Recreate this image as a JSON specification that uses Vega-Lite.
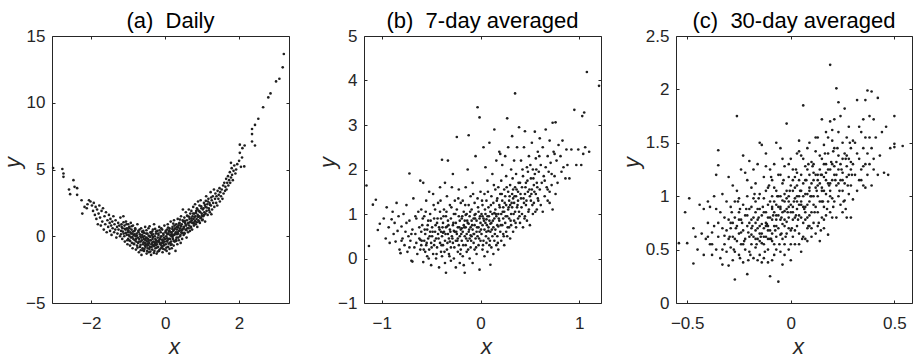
{
"$schema": "https://vega.github.io/schema/vega-lite/v6.json",
"background": "white",
"padding": {"left": 0, "top": 9, "right": 0, "bottom": 0},
"bounds": "flush",
"spacing": 75,
"config": {
 "font": "Liberation Sans",
 "view": {"stroke": "#262626", "strokeWidth": 1},
 "axis": {"domain": false, "grid": false, "minExtent": 0, "tickSize": -3, "tickColor": "#262626", "tickWidth": 1, "labelFont": "Liberation Sans", "labelFontSize": 17, "labelColor": "#262626", "labelFlush": false, "titleFont": "Liberation Sans", "titleFontSize": 22, "titleFontStyle": "italic", "titleFontWeight": "normal", "titleColor": "#262626"},
 "axisX": {"labelPadding": 15, "titleX": 122, "titleY": 50, "titleBaseline": "alphabetic", "titleAlign": "center"},
 "axisY": {"labelPadding": 10, "titleAngle": 270, "titleY": 126, "titleBaseline": "alphabetic", "titleAlign": "center"},
 "title": {"fontSize": 22, "fontWeight": "normal", "color": "#000000", "font": "Liberation Sans", "baseline": "alphabetic", "offset": -6}
},
"datasets": {
"a": [
{"x":-3.03,"y":5.11},{"x":-2.78,"y":5.04},{"x":-2.75,"y":4.7},{"x":-2.75,"y":4.45},{"x":-2.6,"y":3.5},{"x":-2.57,"y":3.15},{"x":-2.48,"y":4.2},{"x":-2.45,"y":3.7},{"x":-2.38,"y":3.6},{"x":-2.38,"y":3.1},{"x":-2.26,"y":2.7},{"x":-2.24,"y":1.7},{"x":-2.1,"y":2.4},{"x":-2.06,"y":2.7},{"x":-2.18,"y":2.2},{"x":-2.02,"y":2.6},{"x":-2.12,"y":2.1},
{"x":-1.98,"y":2.3},{"x":-1.95,"y":1.9},{"x":-1.93,"y":2.5},{"x":-1.9,"y":1.6},{"x":-1.88,"y":2.2},{"x":-1.86,"y":1.3},{"x":-1.84,"y":2.0},{"x":-1.82,"y":0.9},{"x":-1.8,"y":1.7},{"x":-1.78,"y":2.3},{"x":-1.76,"y":1.4},{"x":-1.74,"y":0.8},{"x":-1.72,"y":1.9},{"x":-1.7,"y":1.1},{"x":-1.68,"y":2.1},{"x":-1.66,"y":0.5},{"x":-1.64,"y":1.5},{"x":-1.62,"y":0.9},{"x":-1.6,"y":1.8},{"x":-1.58,"y":0.3},{"x":-1.56,"y":1.2},{"x":-1.54,"y":0.7},{"x":-1.52,"y":1.6},{"x":-1.5,"y":1.0},
{"x":-1.49,"y":0.4},{"x":-1.48,"y":1.3},{"x":-1.46,"y":0.8},{"x":-1.45,"y":0.1},{"x":-1.43,"y":1.1},{"x":-1.42,"y":0.6},{"x":-1.4,"y":1.5},{"x":-1.38,"y":0.3},{"x":-1.37,"y":0.9},{"x":-1.35,"y":0.5},{"x":-1.34,"y":1.2},{"x":-1.32,"y":-0.1},{"x":-1.3,"y":0.7},{"x":-1.29,"y":0.2},{"x":-1.27,"y":1.0},{"x":-1.26,"y":0.5},{"x":-1.24,"y":0.8},{"x":-1.22,"y":0.0},{"x":-1.21,"y":1.4},{"x":-1.19,"y":0.4},{"x":-1.18,"y":0.9},{"x":-1.16,"y":-0.2},{"x":-1.15,"y":0.6},{"x":-1.13,"y":1.5},{"x":-1.12,"y":0.2},{"x":-1.1,"y":0.8},{"x":-1.09,"y":-0.4},{"x":-1.07,"y":0.5},{"x":-1.06,"y":1.1},{"x":-1.04,"y":0.1},{"x":-1.03,"y":0.6},{"x":-1.02,"y":-0.6},{"x":-1.01,"y":0.3},{"x":-1.0,"y":0.9},{"x":-1.0,"y":-0.2},
{"x":-0.99,"y":0.4},{"x":-0.98,"y":-0.3},{"x":-0.97,"y":0.7},{"x":-0.96,"y":0.0},{"x":-0.95,"y":-0.7},{"x":-0.94,"y":0.3},{"x":-0.93,"y":1.0},{"x":-0.92,"y":-0.1},{"x":-0.91,"y":0.5},{"x":-0.9,"y":-0.5},{"x":-0.89,"y":0.2},{"x":-0.88,"y":-0.9},{"x":-0.87,"y":0.8},{"x":-0.86,"y":-0.2},{"x":-0.85,"y":0.1},{"x":-0.84,"y":-0.6},{"x":-0.83,"y":0.4},{"x":-0.82,"y":-0.3},{"x":-0.81,"y":0.6},{"x":-0.8,"y":0.0},{"x":-0.79,"y":-1.0},{"x":-0.78,"y":-0.4},{"x":-0.77,"y":0.2},{"x":-0.76,"y":-0.7},{"x":-0.75,"y":0.9},{"x":-0.74,"y":-0.1},{"x":-0.73,"y":-0.5},{"x":-0.72,"y":0.3},{"x":-0.71,"y":-1.2},{"x":-0.7,"y":-0.2},{"x":-0.69,"y":0.5},{"x":-0.68,"y":-0.8},{"x":-0.67,"y":0.0},{"x":-0.66,"y":-0.4},{"x":-0.65,"y":0.6},{"x":-0.64,"y":-1.4},{"x":-0.63,"y":-0.3},{"x":-0.62,"y":0.1},{"x":-0.61,"y":-0.9},{"x":-0.6,"y":-0.6},{"x":-0.59,"y":0.4},{"x":-0.58,"y":-0.2},{"x":-0.57,"y":-1.1},{"x":-0.56,"y":0.0},{"x":-0.55,"y":-0.5},{"x":-0.54,"y":0.7},{"x":-0.53,"y":-0.8},{"x":-0.52,"y":-0.3},{"x":-0.51,"y":0.2},{"x":-0.5,"y":-1.3},{"x":-0.5,"y":-0.1},{"x":-0.52,"y":-0.6},{"x":-0.56,"y":-0.95},{"x":-0.6,"y":0.3},{"x":-0.66,"y":-1.05},
{"x":-0.49,"y":-0.4},{"x":-0.48,"y":0.2},{"x":-0.47,"y":-0.9},{"x":-0.46,"y":-0.2},{"x":-0.45,"y":0.6},{"x":-0.44,"y":-1.2},{"x":-0.43,"y":-0.5},{"x":-0.42,"y":0.0},{"x":-0.41,"y":-0.8},{"x":-0.4,"y":0.3},{"x":-0.39,"y":-0.3},{"x":-0.38,"y":-1.4},{"x":-0.37,"y":-0.6},{"x":-0.36,"y":0.1},{"x":-0.35,"y":-1.0},{"x":-0.34,"y":-0.2},{"x":-0.33,"y":0.5},{"x":-0.32,"y":-0.7},{"x":-0.31,"y":-0.4},{"x":-0.3,"y":0.9},{"x":-0.29,"y":-1.1},{"x":-0.28,"y":0.0},{"x":-0.27,"y":-0.5},{"x":-0.26,"y":-0.9},{"x":-0.25,"y":0.2},{"x":-0.24,"y":-0.3},{"x":-0.23,"y":-1.3},{"x":-0.22,"y":-0.6},{"x":-0.21,"y":0.4},{"x":-0.2,"y":-0.1},{"x":-0.19,"y":-0.8},{"x":-0.18,"y":0.1},{"x":-0.17,"y":-0.4},{"x":-0.16,"y":0.7},{"x":-0.15,"y":-1.0},{"x":-0.14,"y":-0.2},{"x":-0.13,"y":-0.6},{"x":-0.12,"y":0.3},{"x":-0.11,"y":-0.9},{"x":-0.1,"y":0.0},{"x":-0.09,"y":-0.5},{"x":-0.08,"y":0.5},{"x":-0.07,"y":-1.2},{"x":-0.06,"y":-0.3},{"x":-0.05,"y":0.2},{"x":-0.04,"y":-0.7},{"x":-0.03,"y":-0.1},{"x":-0.02,"y":0.8},{"x":-0.01,"y":-0.4},{"x":0.0,"y":-1.0},{"x":-0.45,"y":-0.65},{"x":-0.4,"y":-1.15},{"x":-0.35,"y":0.35},{"x":-0.3,"y":-0.75},{"x":-0.25,"y":-0.45},{"x":-0.2,"y":-1.15},{"x":-0.15,"y":0.45},{"x":-0.1,"y":-0.7},{"x":-0.05,"y":-0.95},{"x":-0.42,"y":0.75},{"x":-0.33,"y":-0.05},{"x":-0.27,"y":0.55},{"x":-0.18,"y":-0.35},{"x":-0.08,"y":-0.25},{"x":-0.48,"y":-0.7},
{"x":0.01,"y":0.3},{"x":0.02,"y":-0.6},{"x":0.03,"y":0.0},{"x":0.04,"y":-1.1},{"x":0.05,"y":0.5},{"x":0.06,"y":-0.3},{"x":0.07,"y":0.9},{"x":0.08,"y":-0.8},{"x":0.09,"y":0.2},{"x":0.1,"y":-0.2},{"x":0.11,"y":-1.3},{"x":0.12,"y":0.6},{"x":0.13,"y":-0.5},{"x":0.14,"y":0.1},{"x":0.15,"y":1.1},{"x":0.16,"y":-0.4},{"x":0.17,"y":0.3},{"x":0.18,"y":-0.9},{"x":0.19,"y":0.0},{"x":0.2,"y":0.7},{"x":0.21,"y":-0.2},{"x":0.22,"y":0.4},{"x":0.23,"y":-0.7},{"x":0.24,"y":1.2},{"x":0.25,"y":0.1},{"x":0.26,"y":-0.4},{"x":0.27,"y":0.6},{"x":0.28,"y":-1.1},{"x":0.29,"y":0.3},{"x":0.3,"y":0.9},{"x":0.31,"y":-0.1},{"x":0.32,"y":0.5},{"x":0.33,"y":-0.6},{"x":0.34,"y":1.3},{"x":0.35,"y":0.2},{"x":0.36,"y":0.8},{"x":0.37,"y":-0.3},{"x":0.38,"y":0.4},{"x":0.39,"y":1.0},{"x":0.4,"y":0.0},{"x":0.41,"y":0.6},{"x":0.42,"y":-0.5},{"x":0.43,"y":1.5},{"x":0.44,"y":0.3},{"x":0.45,"y":0.9},{"x":0.46,"y":-0.2},{"x":0.47,"y":0.5},{"x":0.48,"y":2.0},{"x":0.49,"y":1.1},{"x":0.5,"y":0.1},{"x":0.05,"y":-0.15},{"x":0.1,"y":0.35},{"x":0.15,"y":-0.65},{"x":0.2,"y":-0.05},{"x":0.25,"y":0.5},{"x":0.3,"y":-0.35},{"x":0.35,"y":0.65},{"x":0.4,"y":1.25},{"x":0.45,"y":0.45},{"x":0.12,"y":-0.95},{"x":0.22,"y":0.95},{"x":0.32,"y":0.15},{"x":0.42,"y":0.8},{"x":0.08,"y":0.65},{"x":0.18,"y":0.15},
{"x":0.51,"y":0.7},{"x":0.52,"y":1.4},{"x":0.53,"y":0.2},{"x":0.54,"y":1.0},{"x":0.55,"y":0.5},{"x":0.56,"y":1.8},{"x":0.57,"y":0.8},{"x":0.58,"y":-0.1},{"x":0.59,"y":1.2},{"x":0.6,"y":0.6},{"x":0.61,"y":1.5},{"x":0.62,"y":0.3},{"x":0.63,"y":1.0},{"x":0.64,"y":2.0},{"x":0.65,"y":0.8},{"x":0.66,"y":1.3},{"x":0.67,"y":0.4},{"x":0.68,"y":1.7},{"x":0.69,"y":1.1},{"x":0.7,"y":0.7},{"x":0.71,"y":1.9},{"x":0.72,"y":1.2},{"x":0.73,"y":0.5},{"x":0.74,"y":1.5},{"x":0.75,"y":1.0},{"x":0.76,"y":2.2},{"x":0.77,"y":1.3},{"x":0.78,"y":0.8},{"x":0.79,"y":1.7},{"x":0.8,"y":1.1},{"x":0.81,"y":2.4},{"x":0.82,"y":1.5},{"x":0.83,"y":0.9},{"x":0.84,"y":1.9},{"x":0.85,"y":1.3},{"x":0.86,"y":2.1},{"x":0.87,"y":0.7},{"x":0.88,"y":1.6},{"x":0.89,"y":2.6},{"x":0.9,"y":1.2},{"x":0.91,"y":1.9},{"x":0.92,"y":1.5},{"x":0.93,"y":2.3},{"x":0.94,"y":1.0},{"x":0.95,"y":1.8},{"x":0.96,"y":2.7},{"x":0.97,"y":1.4},{"x":0.98,"y":2.1},{"x":0.99,"y":1.7},{"x":1.0,"y":1.2},
{"x":1.02,"y":2.0},{"x":1.03,"y":1.5},{"x":1.05,"y":2.5},{"x":1.06,"y":1.8},{"x":1.08,"y":1.1},{"x":1.09,"y":2.2},{"x":1.11,"y":3.0},{"x":1.12,"y":1.9},{"x":1.14,"y":2.4},{"x":1.15,"y":1.6},{"x":1.17,"y":2.8},{"x":1.18,"y":2.1},{"x":1.2,"y":2.5},{"x":1.21,"y":1.8},{"x":1.23,"y":3.3},{"x":1.24,"y":2.3},{"x":1.26,"y":2.7},{"x":1.27,"y":2.0},{"x":1.29,"y":3.0},{"x":1.3,"y":2.5},{"x":1.32,"y":3.5},{"x":1.33,"y":2.2},{"x":1.35,"y":2.8},{"x":1.36,"y":3.2},{"x":1.38,"y":2.5},{"x":1.39,"y":3.0},{"x":1.41,"y":2.3},{"x":1.42,"y":3.4},{"x":1.44,"y":2.8},{"x":1.45,"y":3.1},{"x":1.47,"y":3.6},{"x":1.48,"y":2.6},{"x":1.49,"y":3.3},{"x":1.1,"y":2.65},{"x":1.25,"y":1.65},
{"x":1.51,"y":3.0},{"x":1.53,"y":3.5},{"x":1.55,"y":2.8},{"x":1.57,"y":3.8},{"x":1.58,"y":3.2},{"x":1.6,"y":4.0},{"x":1.62,"y":3.4},{"x":1.63,"y":3.7},{"x":1.65,"y":4.3},{"x":1.66,"y":3.5},{"x":1.68,"y":4.0},{"x":1.7,"y":4.5},{"x":1.71,"y":3.8},{"x":1.73,"y":4.2},{"x":1.75,"y":4.8},{"x":1.76,"y":4.0},{"x":1.78,"y":4.4},{"x":1.8,"y":5.1},{"x":1.81,"y":4.6},{"x":1.83,"y":4.2},{"x":1.85,"y":4.9},{"x":1.87,"y":5.3},{"x":1.9,"y":4.7},{"x":1.92,"y":5.0},{"x":1.95,"y":5.4},
{"x":1.78,"y":5.5},{"x":2.0,"y":5.65},{"x":2.02,"y":6.25},{"x":2.02,"y":6.86},{"x":2.05,"y":5.2},{"x":2.08,"y":5.9},{"x":2.09,"y":6.6},{"x":2.14,"y":5.23},{"x":2.15,"y":6.8},{"x":2.35,"y":8.03},{"x":2.35,"y":7.65},{"x":2.35,"y":7.1},{"x":2.43,"y":6.8},{"x":2.43,"y":8.34},{"x":2.52,"y":8.8},{"x":2.65,"y":9.66},{"x":2.79,"y":10.4},{"x":2.85,"y":10.7},{"x":3.0,"y":11.6},{"x":3.09,"y":11.8},{"x":3.18,"y":12.65},{"x":3.21,"y":13.65},
{"x":-1.195,"y":0.15},{"x":-1.175,"y":0.7},{"x":-1.145,"y":0.35},{"x":-1.125,"y":1.05},{"x":-1.105,"y":0.0},{"x":-1.085,"y":0.55},{"x":-1.065,"y":0.25},{"x":-1.045,"y":0.9},{"x":-1.025,"y":-0.3},{"x":-1.005,"y":0.45},
{"x":-0.985,"y":0.1},{"x":-0.965,"y":0.6},{"x":-0.945,"y":-0.35},{"x":-0.925,"y":0.2},{"x":-0.905,"y":0.75},{"x":-0.885,"y":-0.05},{"x":-0.865,"y":0.35},{"x":-0.845,"y":-0.55},{"x":-0.825,"y":0.15},{"x":-0.805,"y":0.5},
{"x":-0.785,"y":-0.2},{"x":-0.765,"y":0.05},{"x":-0.745,"y":-0.85},{"x":-0.725,"y":0.4},{"x":-0.705,"y":-0.4},{"x":-0.685,"y":0.15},{"x":-0.665,"y":-0.65},{"x":-0.645,"y":-0.1},{"x":-0.625,"y":0.35},{"x":-0.605,"y":-1.05},
{"x":-0.585,"y":-0.45},{"x":-0.565,"y":0.25},{"x":-0.545,"y":-0.7},{"x":-0.525,"y":-0.15},{"x":-0.505,"y":0.45},{"x":-0.485,"y":-1.1},{"x":-0.465,"y":-0.55},{"x":-0.445,"y":0.05},{"x":-0.425,"y":-0.95},{"x":-0.405,"y":-0.3},
{"x":-0.385,"y":0.25},{"x":-0.365,"y":-0.8},{"x":-0.345,"y":-0.45},{"x":-0.325,"y":0.15},{"x":-0.305,"y":-1.25},{"x":-0.285,"y":-0.6},{"x":-0.265,"y":-0.2},{"x":-0.245,"y":0.35},{"x":-0.225,"y":-0.85},{"x":-0.205,"y":-0.4},
{"x":-0.185,"y":0.2},{"x":-0.165,"y":-1.1},{"x":-0.145,"y":-0.5},{"x":-0.125,"y":-0.05},{"x":-0.105,"y":0.6},{"x":-0.085,"y":-0.8},{"x":-0.065,"y":-0.35},{"x":-0.045,"y":0.1},{"x":-0.025,"y":-0.65},{"x":-0.005,"y":-0.2},
{"x":0.015,"y":0.4},{"x":0.035,"y":-0.85},{"x":0.055,"y":-0.4},{"x":0.075,"y":0.15},{"x":0.095,"y":-0.55},{"x":0.115,"y":0.45},{"x":0.135,"y":-0.2},{"x":0.155,"y":0.3},{"x":0.175,"y":-0.6},{"x":0.195,"y":0.55},
{"x":0.215,"y":0.1},{"x":0.235,"y":-0.35},{"x":0.255,"y":0.8},{"x":0.275,"y":0.2},{"x":0.295,"y":-0.25},{"x":0.315,"y":0.7},{"x":0.335,"y":0.3},{"x":0.355,"y":-0.1},{"x":0.375,"y":0.95},{"x":0.395,"y":0.45},
{"x":0.415,"y":0.1},{"x":0.435,"y":0.75},{"x":0.455,"y":0.25},{"x":0.475,"y":1.2},{"x":0.495,"y":0.6},{"x":0.515,"y":0.25},{"x":0.535,"y":1.15},{"x":0.555,"y":0.85},{"x":0.575,"y":0.45},{"x":0.595,"y":1.55},
{"x":0.615,"y":0.95},{"x":0.635,"y":0.6},{"x":0.655,"y":1.45},{"x":0.675,"y":1.05},{"x":0.695,"y":0.65},{"x":0.715,"y":1.35},{"x":0.735,"y":1.0},{"x":0.755,"y":1.7},{"x":0.775,"y":0.95},{"x":0.795,"y":1.45},
{"x":0.815,"y":1.15},{"x":0.835,"y":1.75},{"x":0.855,"y":1.05},{"x":0.875,"y":2.0},{"x":0.895,"y":1.45},{"x":0.915,"y":1.1},{"x":0.935,"y":1.85},{"x":0.955,"y":1.35},{"x":0.975,"y":2.25},{"x":0.995,"y":1.55},
{"x":1.015,"y":1.25},{"x":1.035,"y":2.1},{"x":1.055,"y":1.6},{"x":1.075,"y":2.35},{"x":1.095,"y":1.7},{"x":1.125,"y":2.15},{"x":1.155,"y":2.6},{"x":1.185,"y":1.95},{"x":1.215,"y":2.35},{"x":1.245,"y":2.9},
{"x":-0.55,"y":-0.25},{"x":-0.45,"y":-0.35},{"x":-0.35,"y":-0.6},{"x":-0.25,"y":-0.65},{"x":-0.15,"y":-0.25},{"x":-0.05,"y":-0.5},{"x":0.05,"y":0.2},{"x":0.15,"y":0.05},{"x":-0.6,"y":-0.05},{"x":-0.4,"y":-0.05}
],
"b": [
{"x":-1.155,"y":1.64},{"x":-1.13,"y":0.28},{"x":-1.06,"y":1.32},{"x":-1.09,"y":1.21},{"x":-1.04,"y":0.64},{"x":-1.02,"y":0.78},
{"x":-0.98,"y":0.9},{"x":-0.96,"y":0.45},{"x":-0.95,"y":1.15},{"x":-0.93,"y":0.7},{"x":-0.92,"y":0.35},{"x":-0.9,"y":0.88},{"x":-0.89,"y":1.05},{"x":-0.88,"y":0.55},{"x":-0.87,"y":0.8},{"x":-0.86,"y":0.38},{"x":-0.85,"y":1.25},{"x":-0.84,"y":0.62},{"x":-0.83,"y":0.95},{"x":-0.82,"y":0.2},{"x":-0.81,"y":0.12},{"x":-0.8,"y":0.72},
{"x":-0.79,"y":0.45},{"x":-0.78,"y":1.0},{"x":-0.77,"y":0.3},{"x":-0.76,"y":0.6},{"x":-0.75,"y":1.2},{"x":-0.74,"y":0.15},{"x":-0.73,"y":0.5},{"x":-0.72,"y":1.91},{"x":-0.72,"y":0.85},{"x":-0.71,"y":0.4},{"x":-0.7,"y":-0.05},{"x":-0.69,"y":0.65},{"x":-0.69,"y":-0.07},{"x":-0.68,"y":1.35},{"x":-0.67,"y":0.25},{"x":-0.66,"y":0.55},{"x":-0.65,"y":0.9},{"x":-0.65,"y":0.35},{"x":-0.64,"y":0.1},{"x":-0.63,"y":1.05},{"x":-0.62,"y":0.45},{"x":-0.62,"y":0.7},{"x":-0.61,"y":1.75},{"x":-0.61,"y":0.2},{"x":-0.6,"y":0.6},{"x":-0.6,"y":1.1},{"x":-0.6,"y":0.3},{"x":-0.61,"y":0.42},
{"x":-0.59,"y":0.75},{"x":-0.58,"y":1.7},{"x":-0.58,"y":-0.08},{"x":-0.57,"y":0.4},{"x":-0.57,"y":0.95},{"x":-0.56,"y":0.15},{"x":-0.56,"y":0.55},{"x":-0.55,"y":1.3},{"x":-0.55,"y":0.3},{"x":-0.54,"y":0.65},{"x":-0.54,"y":0.05},{"x":-0.53,"y":0.85},{"x":-0.53,"y":0.45},{"x":-0.52,"y":1.5},{"x":-0.52,"y":0.2},{"x":-0.51,"y":0.6},{"x":-0.51,"y":1.0},{"x":-0.5,"y":0.35},{"x":-0.5,"y":-0.15},{"x":-0.49,"y":0.7},{"x":-0.49,"y":0.5},{"x":-0.48,"y":1.45},{"x":-0.48,"y":0.1},{"x":-0.47,"y":0.9},{"x":-0.47,"y":0.3},{"x":-0.46,"y":0.6},{"x":-0.46,"y":1.1},{"x":-0.45,"y":0.0},{"x":-0.45,"y":0.45},{"x":-0.44,"y":0.8},{"x":-0.44,"y":0.25},{"x":-0.43,"y":1.25},{"x":-0.43,"y":0.55},{"x":-0.42,"y":-0.2},{"x":-0.42,"y":0.7},{"x":-0.41,"y":0.35},{"x":-0.41,"y":1.05},{"x":-0.4,"y":0.15},{"x":-0.4,"y":0.6},{"x":-0.4,"y":0.9},{"x":-0.39,"y":2.22},{"x":-0.41,"y":1.6},
{"x":-0.39,"y":0.5},{"x":-0.39,"y":0.05},{"x":-0.38,"y":0.8},{"x":-0.38,"y":0.3},{"x":-0.37,"y":1.1},{"x":-0.37,"y":0.6},{"x":-0.36,"y":-0.1},{"x":-0.36,"y":0.4},{"x":-0.35,"y":0.95},{"x":-0.35,"y":-0.32},{"x":-0.35,"y":0.7},{"x":-0.34,"y":0.2},{"x":-0.34,"y":1.4},{"x":-0.33,"y":0.55},{"x":-0.33,"y":2.2},{"x":-0.33,"y":0.85},{"x":-0.32,"y":0.1},{"x":-0.32,"y":0.45},{"x":-0.31,"y":1.2},{"x":-0.31,"y":0.65},{"x":-0.3,"y":0.25},{"x":-0.3,"y":0.9},{"x":-0.3,"y":-0.05},{"x":-0.29,"y":0.5},{"x":-0.29,"y":1.6},{"x":-0.28,"y":0.75},{"x":-0.28,"y":0.35},{"x":-0.27,"y":1.0},{"x":-0.27,"y":0.0},{"x":-0.26,"y":0.6},{"x":-0.26,"y":1.3},{"x":-0.25,"y":0.4},{"x":-0.25,"y":0.8},{"x":-0.25,"y":-0.2},{"x":-0.24,"y":2.73},{"x":-0.24,"y":0.55},{"x":-0.24,"y":1.1},{"x":-0.23,"y":0.15},{"x":-0.23,"y":0.7},{"x":-0.22,"y":0.95},{"x":-0.22,"y":0.3},{"x":-0.22,"y":1.55},{"x":-0.21,"y":0.5},{"x":-0.21,"y":-0.1},{"x":-0.21,"y":0.85},{"x":-0.2,"y":0.65},{"x":-0.2,"y":1.25},{"x":-0.2,"y":0.2},{"x":-0.28,"y":1.9},{"x":-0.36,"y":1.7},{"x":-0.31,"y":0.38},{"x":-0.27,"y":0.62},{"x":-0.23,"y":0.45},{"x":-0.38,"y":0.58},{"x":-0.34,"y":0.72},
{"x":-0.19,"y":0.4},{"x":-0.19,"y":0.9},{"x":-0.18,"y":1.3},{"x":-0.18,"y":0.05},{"x":-0.18,"y":0.6},{"x":-0.17,"y":0.75},{"x":-0.17,"y":-0.15},{"x":-0.17,"y":1.05},{"x":-0.16,"y":-0.32},{"x":-0.16,"y":0.5},{"x":-0.16,"y":0.85},{"x":-0.15,"y":1.6},{"x":-0.15,"y":0.3},{"x":-0.15,"y":0.7},{"x":-0.14,"y":1.0},{"x":-0.14,"y":0.15},{"x":-0.14,"y":0.55},{"x":-0.13,"y":2.0},{"x":-0.13,"y":0.8},{"x":-0.13,"y":0.4},{"x":-0.12,"y":2.77},{"x":-0.12,"y":1.2},{"x":-0.12,"y":0.6},{"x":-0.11,"y":0.0},{"x":-0.11,"y":0.95},{"x":-0.11,"y":0.45},{"x":-0.1,"y":1.4},{"x":-0.1,"y":0.7},{"x":-0.1,"y":0.25},{"x":-0.09,"y":0.85},{"x":-0.09,"y":1.1},{"x":-0.09,"y":0.5},{"x":-0.08,"y":-0.1},{"x":-0.08,"y":0.65},{"x":-0.08,"y":1.7},{"x":-0.07,"y":0.35},{"x":-0.07,"y":0.9},{"x":-0.07,"y":0.55},{"x":-0.06,"y":1.25},{"x":-0.06,"y":0.2},{"x":-0.06,"y":0.75},{"x":-0.05,"y":1.0},{"x":-0.05,"y":0.45},{"x":-0.05,"y":2.3},{"x":-0.04,"y":0.6},{"x":-0.04,"y":0.1},{"x":-0.04,"y":0.85},{"x":-0.03,"y":3.4},{"x":-0.03,"y":1.35},{"x":-0.03,"y":0.5},{"x":-0.02,"y":0.7},{"x":-0.02,"y":0.3},{"x":-0.02,"y":1.05},{"x":-0.01,"y":3.17},{"x":-0.01,"y":-0.25},{"x":-0.01,"y":0.9},{"x":-0.01,"y":0.6},{"x":0.0,"y":1.5},{"x":0.0,"y":0.4},{"x":0.0,"y":0.8},{"x":-0.15,"y":0.98},{"x":-0.12,"y":0.78},{"x":-0.06,"y":0.98},{"x":-0.19,"y":0.68},{"x":-0.1,"y":0.52},
{"x":0.01,"y":1.0},{"x":0.01,"y":0.55},{"x":0.02,"y":0.2},{"x":0.02,"y":1.2},{"x":0.02,"y":0.75},{"x":0.03,"y":2.5},{"x":0.03,"y":0.9},{"x":0.03,"y":0.4},{"x":0.04,"y":1.45},{"x":0.04,"y":0.65},{"x":0.04,"y":0.05},{"x":0.05,"y":1.0},{"x":0.05,"y":0.8},{"x":0.05,"y":2.05},{"x":0.06,"y":0.35},{"x":0.06,"y":1.3},{"x":0.06,"y":0.6},{"x":0.07,"y":0.95},{"x":0.07,"y":0.15},{"x":0.07,"y":1.75},{"x":0.08,"y":0.7},{"x":0.08,"y":1.15},{"x":0.08,"y":0.45},{"x":0.09,"y":0.85},{"x":0.09,"y":2.6},{"x":0.09,"y":0.3},{"x":0.1,"y":1.05},{"x":0.1,"y":-0.14},{"x":0.1,"y":0.6},{"x":0.11,"y":1.4},{"x":0.11,"y":0.8},{"x":0.11,"y":0.25},{"x":0.12,"y":1.0},{"x":0.12,"y":1.9},{"x":0.12,"y":0.5},{"x":0.13,"y":0.7},{"x":0.13,"y":1.25},{"x":0.13,"y":0.1},{"x":0.14,"y":0.9},{"x":0.14,"y":2.9},{"x":0.14,"y":0.4},{"x":0.15,"y":1.55},{"x":0.15,"y":1.1},{"x":0.15,"y":0.65},{"x":0.16,"y":0.3},{"x":0.16,"y":0.95},{"x":0.16,"y":2.2},{"x":0.17,"y":1.35},{"x":0.17,"y":0.75},{"x":0.17,"y":0.5},{"x":0.18,"y":1.6},{"x":0.18,"y":1.0},{"x":0.18,"y":0.2},{"x":0.19,"y":0.85},{"x":0.19,"y":1.2},{"x":0.19,"y":2.4},{"x":0.2,"y":0.6},{"x":0.2,"y":2.35},{"x":0.2,"y":1.45},{"x":0.02,"y":0.95},{"x":0.06,"y":0.88},{"x":0.1,"y":0.78},{"x":0.14,"y":1.02},{"x":0.08,"y":0.62},{"x":0.18,"y":0.72},
{"x":0.21,"y":1.0},{"x":0.21,"y":0.4},{"x":0.21,"y":1.75},{"x":0.22,"y":0.75},{"x":0.22,"y":1.3},{"x":0.22,"y":2.1},{"x":0.23,"y":0.55},{"x":0.23,"y":1.15},{"x":0.23,"y":0.9},{"x":0.24,"y":1.55},{"x":0.24,"y":0.3},{"x":0.24,"y":1.05},{"x":0.25,"y":2.3},{"x":0.25,"y":0.8},{"x":0.25,"y":1.4},{"x":0.26,"y":0.6},{"x":0.26,"y":1.2},{"x":0.26,"y":1.85},{"x":0.27,"y":3.15},{"x":0.27,"y":0.95},{"x":0.27,"y":0.5},{"x":0.28,"y":1.5},{"x":0.28,"y":1.1},{"x":0.28,"y":2.5},{"x":0.29,"y":0.7},{"x":0.29,"y":1.3},{"x":0.29,"y":0.9},{"x":0.3,"y":1.65},{"x":0.3,"y":0.45},{"x":0.3,"y":1.2},{"x":0.31,"y":2.0},{"x":0.31,"y":1.0},{"x":0.31,"y":0.75},{"x":0.32,"y":1.45},{"x":0.32,"y":1.15},{"x":0.32,"y":2.75},{"x":0.33,"y":0.6},{"x":0.33,"y":1.35},{"x":0.33,"y":1.55},{"x":0.34,"y":0.85},{"x":0.34,"y":2.2},{"x":0.34,"y":1.25},{"x":0.35,"y":3.71},{"x":0.35,"y":1.05},{"x":0.35,"y":1.6},{"x":0.36,"y":0.7},{"x":0.36,"y":1.4},{"x":0.36,"y":1.9},{"x":0.37,"y":1.15},{"x":0.37,"y":2.5},{"x":0.38,"y":0.9},{"x":0.38,"y":1.5},{"x":0.38,"y":1.3},{"x":0.39,"y":2.95},{"x":0.39,"y":1.05},{"x":0.4,"y":1.7},{"x":0.4,"y":0.8},
{"x":0.41,"y":1.35},{"x":0.41,"y":2.2},{"x":0.42,"y":1.0},{"x":0.42,"y":1.6},{"x":0.43,"y":0.7},{"x":0.43,"y":1.85},{"x":0.44,"y":1.25},{"x":0.44,"y":2.5},{"x":0.45,"y":2.86},{"x":0.45,"y":1.45},{"x":0.45,"y":0.95},{"x":0.46,"y":1.7},{"x":0.46,"y":1.2},{"x":0.47,"y":2.05},{"x":0.47,"y":0.85},{"x":0.48,"y":1.5},{"x":0.48,"y":1.95},{"x":0.49,"y":1.1},{"x":0.49,"y":2.3},{"x":0.5,"y":1.4},{"x":0.5,"y":0.75},{"x":0.51,"y":1.8},{"x":0.51,"y":1.3},{"x":0.52,"y":2.6},{"x":0.52,"y":1.55},{"x":0.53,"y":1.0},{"x":0.53,"y":2.0},{"x":0.54,"y":1.65},{"x":0.54,"y":1.25},{"x":0.55,"y":2.85},{"x":0.55,"y":1.9},{"x":0.56,"y":1.45},{"x":0.56,"y":2.25},{"x":0.57,"y":1.1},{"x":0.57,"y":1.7},{"x":0.58,"y":2.4},{"x":0.58,"y":1.35},{"x":0.59,"y":1.95},{"x":0.6,"y":1.55},{"x":0.6,"y":2.7},
{"x":0.61,"y":1.2},{"x":0.61,"y":2.1},{"x":0.62,"y":1.7},{"x":0.63,"y":1.05},{"x":0.63,"y":2.5},{"x":0.64,"y":1.85},{"x":0.65,"y":1.4},{"x":0.66,"y":2.9},{"x":0.66,"y":2.05},{"x":0.67,"y":1.6},{"x":0.68,"y":2.3},{"x":0.68,"y":1.3},{"x":0.69,"y":1.95},{"x":0.7,"y":2.65},{"x":0.7,"y":1.5},{"x":0.71,"y":2.15},{"x":0.72,"y":1.65},{"x":0.73,"y":3.05},{"x":0.73,"y":1.1},{"x":0.74,"y":2.4},{"x":0.75,"y":1.85},{"x":0.76,"y":3.06},{"x":0.76,"y":1.45},{"x":0.77,"y":2.2},{"x":0.78,"y":1.7},{"x":0.79,"y":2.55},
{"x":0.81,"y":2.3},{"x":0.82,"y":1.95},{"x":0.83,"y":2.65},{"x":0.84,"y":2.05},{"x":0.86,"y":1.8},{"x":0.87,"y":2.45},{"x":0.88,"y":2.1},{"x":0.9,"y":1.8},{"x":0.92,"y":2.45},{"x":0.95,"y":3.34},{"x":0.97,"y":2.1},{"x":0.99,"y":2.45},
{"x":1.02,"y":2.1},{"x":1.03,"y":3.2},{"x":1.04,"y":2.35},{"x":1.05,"y":3.28},{"x":1.06,"y":2.5},{"x":1.077,"y":4.19},{"x":1.1,"y":2.4},{"x":1.2,"y":3.88},
{"x":-0.595,"y":0.4},{"x":-0.585,"y":0.9},{"x":-0.575,"y":0.2},{"x":-0.565,"y":0.65},{"x":-0.555,"y":1.05},{"x":-0.545,"y":0.35},{"x":-0.535,"y":0.75},{"x":-0.525,"y":0.0},{"x":-0.515,"y":0.5},{"x":-0.505,"y":0.85},
{"x":-0.495,"y":0.25},{"x":-0.485,"y":0.6},{"x":-0.475,"y":1.2},{"x":-0.465,"y":0.4},{"x":-0.455,"y":0.75},{"x":-0.445,"y":0.1},{"x":-0.435,"y":0.9},{"x":-0.425,"y":0.45},{"x":-0.415,"y":0.65},{"x":-0.405,"y":1.3},
{"x":-0.395,"y":0.3},{"x":-0.385,"y":0.7},{"x":-0.375,"y":0.95},{"x":-0.365,"y":0.15},{"x":-0.355,"y":0.55},{"x":-0.345,"y":1.05},{"x":-0.335,"y":0.35},{"x":-0.325,"y":0.75},{"x":-0.315,"y":0.05},{"x":-0.305,"y":0.6},
{"x":-0.295,"y":1.15},{"x":-0.285,"y":0.45},{"x":-0.275,"y":0.8},{"x":-0.265,"y":0.25},{"x":-0.255,"y":1.0},{"x":-0.245,"y":0.6},{"x":-0.235,"y":0.4},{"x":-0.225,"y":1.35},{"x":-0.215,"y":0.7},{"x":-0.205,"y":0.1},
{"x":-0.195,"y":0.55},{"x":-0.185,"y":0.95},{"x":-0.175,"y":0.3},{"x":-0.165,"y":0.7},{"x":-0.155,"y":1.2},{"x":-0.145,"y":0.45},{"x":-0.135,"y":0.85},{"x":-0.125,"y":0.2},{"x":-0.115,"y":0.65},{"x":-0.105,"y":1.05},
{"x":-0.095,"y":0.4},{"x":-0.085,"y":0.75},{"x":-0.075,"y":1.45},{"x":-0.065,"y":0.55},{"x":-0.055,"y":0.9},{"x":-0.045,"y":0.25},{"x":-0.035,"y":0.7},{"x":-0.025,"y":1.15},{"x":-0.015,"y":0.45},{"x":-0.005,"y":0.95},
{"x":0.005,"y":0.65},{"x":0.015,"y":1.3},{"x":0.025,"y":0.3},{"x":0.035,"y":0.85},{"x":0.045,"y":1.1},{"x":0.055,"y":0.5},{"x":0.065,"y":0.75},{"x":0.075,"y":1.5},{"x":0.085,"y":0.95},{"x":0.095,"y":0.4},
{"x":0.105,"y":1.2},{"x":0.115,"y":0.65},{"x":0.125,"y":0.85},{"x":0.135,"y":1.65},{"x":0.145,"y":0.55},{"x":0.155,"y":1.0},{"x":0.165,"y":1.3},{"x":0.175,"y":0.35},{"x":0.185,"y":0.9},{"x":0.195,"y":1.15},
{"x":0.205,"y":0.75},{"x":0.215,"y":1.45},{"x":0.225,"y":1.05},{"x":0.235,"y":0.5},{"x":0.245,"y":1.25},{"x":0.255,"y":0.95},{"x":0.265,"y":1.6},{"x":0.275,"y":0.7},{"x":0.285,"y":1.15},{"x":0.295,"y":1.4},
{"x":0.305,"y":0.85},{"x":0.315,"y":1.25},{"x":0.325,"y":1.8},{"x":0.335,"y":1.0},{"x":0.345,"y":1.4},{"x":0.355,"y":0.8},{"x":0.365,"y":1.55},{"x":0.375,"y":1.2},{"x":0.385,"y":1.7},{"x":0.395,"y":0.95},
{"x":0.405,"y":1.45},{"x":0.415,"y":1.15},{"x":0.425,"y":2.0},{"x":0.435,"y":1.35},{"x":0.445,"y":0.9},{"x":0.455,"y":1.6},{"x":0.465,"y":1.3},{"x":0.475,"y":1.75},{"x":0.485,"y":1.05},{"x":0.495,"y":1.55},
{"x":0.505,"y":2.1},{"x":0.515,"y":1.45},{"x":0.525,"y":1.2},{"x":0.535,"y":1.8},{"x":0.545,"y":1.5},{"x":0.555,"y":1.05},{"x":0.565,"y":2.0},{"x":0.575,"y":1.6},{"x":0.585,"y":1.3},{"x":0.595,"y":2.3},
{"x":-0.7,"y":0.55},{"x":-0.75,"y":0.8},{"x":-0.8,"y":0.4},{"x":-0.66,"y":0.95},{"x":-0.72,"y":0.25},{"x":0.65,"y":1.75},{"x":0.7,"y":1.25},{"x":0.75,"y":2.35},{"x":0.68,"y":1.55},{"x":0.72,"y":1.9}
],
"c": [
{"x":-0.54,"y":0.56},{"x":-0.51,"y":0.85},{"x":-0.5,"y":0.56},{"x":-0.49,"y":0.98},{"x":-0.47,"y":0.37},{"x":-0.47,"y":0.7},{"x":-0.46,"y":0.62},{"x":-0.45,"y":0.5},{"x":-0.44,"y":0.92},{"x":-0.43,"y":0.65},{"x":-0.42,"y":0.45},{"x":-0.42,"y":0.88},{"x":-0.41,"y":0.6},{"x":-0.4,"y":0.75},{"x":-0.4,"y":0.95},
{"x":-0.39,"y":0.55},{"x":-0.39,"y":0.9},{"x":-0.38,"y":0.66},{"x":-0.38,"y":0.45},{"x":-0.37,"y":1.0},{"x":-0.37,"y":0.72},{"x":-0.36,"y":0.5},{"x":-0.36,"y":1.2},{"x":-0.35,"y":1.43},{"x":-0.35,"y":1.29},{"x":-0.35,"y":0.62},{"x":-0.34,"y":0.85},{"x":-0.34,"y":0.42},{"x":-0.33,"y":0.36},{"x":-0.33,"y":0.7},{"x":-0.33,"y":1.02},{"x":-0.32,"y":0.55},{"x":-0.32,"y":0.8},{"x":-0.31,"y":0.95},{"x":-0.31,"y":0.48},{"x":-0.31,"y":0.68},{"x":-0.3,"y":1.18},{"x":-0.3,"y":0.6},{"x":-0.3,"y":0.78},{"x":-0.3,"y":0.35},{"x":-0.32,"y":0.63},
{"x":-0.29,"y":0.7},{"x":-0.29,"y":0.52},{"x":-0.29,"y":0.9},{"x":-0.28,"y":1.1},{"x":-0.28,"y":0.62},{"x":-0.28,"y":0.4},{"x":-0.27,"y":0.8},{"x":-0.27,"y":0.22},{"x":-0.27,"y":0.95},{"x":-0.26,"y":1.75},{"x":-0.26,"y":0.58},{"x":-0.26,"y":0.72},{"x":-0.26,"y":1.05},{"x":-0.25,"y":0.45},{"x":-0.25,"y":0.85},{"x":-0.25,"y":0.65},{"x":-0.24,"y":1.25},{"x":-0.24,"y":0.55},{"x":-0.24,"y":0.78},{"x":-0.23,"y":0.92},{"x":-0.23,"y":0.38},{"x":-0.23,"y":0.68},{"x":-0.23,"y":1.38},{"x":-0.22,"y":0.6},{"x":-0.22,"y":0.82},{"x":-0.22,"y":0.5},{"x":-0.21,"y":1.0},{"x":-0.21,"y":0.72},{"x":-0.21,"y":0.27},{"x":-0.21,"y":1.15},{"x":-0.2,"y":0.62},{"x":-0.2,"y":0.88},{"x":-0.2,"y":0.48},{"x":-0.2,"y":1.33},{"x":-0.2,"y":0.75},{"x":-0.28,"y":0.75},{"x":-0.25,"y":0.98},{"x":-0.22,"y":1.22},{"x":-0.27,"y":0.48},{"x":-0.24,"y":0.66},
{"x":-0.19,"y":0.7},{"x":-0.19,"y":1.08},{"x":-0.19,"y":0.55},{"x":-0.19,"y":0.9},{"x":-0.18,"y":0.62},{"x":-0.18,"y":1.25},{"x":-0.18,"y":0.8},{"x":-0.18,"y":0.42},{"x":-0.17,"y":0.95},{"x":-0.17,"y":0.68},{"x":-0.17,"y":1.12},{"x":-0.17,"y":0.52},{"x":-0.16,"y":0.78},{"x":-0.16,"y":1.3},{"x":-0.16,"y":0.6},{"x":-0.16,"y":0.88},{"x":-0.15,"y":0.45},{"x":-0.15,"y":1.02},{"x":-0.15,"y":0.72},{"x":-0.15,"y":0.58},{"x":-0.14,"y":1.48},{"x":-0.14,"y":0.82},{"x":-0.14,"y":0.65},{"x":-0.14,"y":0.38},{"x":-0.13,"y":0.98},{"x":-0.13,"y":0.7},{"x":-0.13,"y":1.18},{"x":-0.13,"y":0.55},{"x":-0.12,"y":0.85},{"x":-0.12,"y":0.62},{"x":-0.12,"y":1.4},{"x":-0.12,"y":0.75},{"x":-0.11,"y":0.5},{"x":-0.11,"y":0.92},{"x":-0.11,"y":0.68},{"x":-0.11,"y":1.08},{"x":-0.11,"y":0.38},{"x":-0.1,"y":0.8},{"x":-0.1,"y":1.25},{"x":-0.1,"y":0.6},{"x":-0.1,"y":0.25},{"x":-0.1,"y":0.95},{"x":-0.19,"y":0.78},{"x":-0.18,"y":0.98},{"x":-0.17,"y":0.6},{"x":-0.16,"y":0.7},{"x":-0.15,"y":0.88},{"x":-0.14,"y":0.74},{"x":-0.13,"y":0.62},{"x":-0.12,"y":0.72},{"x":-0.11,"y":0.8},{"x":-0.1,"y":0.68},{"x":-0.15,"y":1.5},{"x":-0.13,"y":0.42},{"x":-0.12,"y":1.05},{"x":-0.17,"y":0.85},{"x":-0.11,"y":0.6},{"x":-0.14,"y":0.56},
{"x":-0.09,"y":0.88},{"x":-0.09,"y":0.65},{"x":-0.09,"y":1.15},{"x":-0.09,"y":0.4},{"x":-0.08,"y":0.95},{"x":-0.08,"y":0.72},{"x":-0.08,"y":1.3},{"x":-0.08,"y":0.55},{"x":-0.07,"y":1.5},{"x":-0.07,"y":0.82},{"x":-0.07,"y":0.62},{"x":-0.07,"y":1.05},{"x":-0.06,"y":0.2},{"x":-0.06,"y":0.9},{"x":-0.06,"y":0.7},{"x":-0.06,"y":1.2},{"x":-0.05,"y":0.48},{"x":-0.05,"y":1.0},{"x":-0.05,"y":0.78},{"x":-0.05,"y":1.45},{"x":-0.04,"y":0.85},{"x":-0.04,"y":0.6},{"x":-0.04,"y":1.12},{"x":-0.04,"y":0.36},{"x":-0.03,"y":0.95},{"x":-0.03,"y":0.72},{"x":-0.03,"y":1.28},{"x":-0.03,"y":0.55},{"x":-0.02,"y":1.68},{"x":-0.02,"y":0.88},{"x":-0.02,"y":0.65},{"x":-0.02,"y":1.05},{"x":-0.01,"y":0.8},{"x":-0.01,"y":1.18},{"x":-0.01,"y":0.5},{"x":-0.01,"y":0.95},{"x":0.0,"y":0.4},{"x":0.0,"y":0.85},{"x":0.0,"y":1.1},{"x":0.0,"y":0.68},{"x":0.0,"y":1.35},{"x":-0.09,"y":0.78},{"x":-0.08,"y":0.85},{"x":-0.07,"y":0.92},{"x":-0.06,"y":0.82},{"x":-0.05,"y":0.9},{"x":-0.04,"y":0.96},{"x":-0.03,"y":0.86},{"x":-0.02,"y":0.76},{"x":-0.01,"y":0.9},{"x":-0.09,"y":1.0},{"x":-0.07,"y":0.72},{"x":-0.05,"y":0.64},{"x":-0.03,"y":1.02},{"x":-0.01,"y":0.7},{"x":-0.08,"y":1.08},{"x":-0.06,"y":1.0},{"x":-0.04,"y":0.74},{"x":-0.02,"y":0.98},{"x":0.0,"y":0.92},{"x":-0.05,"y":1.2},{"x":-0.03,"y":0.45},{"x":-0.07,"y":0.5},{"x":-0.01,"y":1.3},{"x":-0.09,"y":0.58},
{"x":0.01,"y":0.9},{"x":0.01,"y":1.25},{"x":0.01,"y":0.62},{"x":0.01,"y":1.05},{"x":0.02,"y":0.8},{"x":0.02,"y":1.18},{"x":0.02,"y":0.55},{"x":0.02,"y":0.98},{"x":0.03,"y":1.4},{"x":0.03,"y":0.72},{"x":0.03,"y":1.1},{"x":0.03,"y":0.88},{"x":0.04,"y":1.0},{"x":0.04,"y":0.65},{"x":0.04,"y":1.52},{"x":0.04,"y":0.82},{"x":0.05,"y":1.2},{"x":0.05,"y":0.92},{"x":0.05,"y":0.48},{"x":0.05,"y":1.05},{"x":0.06,"y":1.35},{"x":0.06,"y":0.75},{"x":0.06,"y":1.0},{"x":0.06,"y":1.85},{"x":0.07,"y":0.9},{"x":0.07,"y":1.15},{"x":0.07,"y":0.6},{"x":0.07,"y":1.28},{"x":0.08,"y":1.02},{"x":0.08,"y":0.8},{"x":0.08,"y":1.45},{"x":0.08,"y":0.58},{"x":0.09,"y":0.95},{"x":0.09,"y":1.2},{"x":0.09,"y":0.72},{"x":0.09,"y":1.08},{"x":0.1,"y":1.32},{"x":0.1,"y":0.85},{"x":0.1,"y":1.0},{"x":0.1,"y":0.62},{"x":0.01,"y":0.78},{"x":0.02,"y":1.08},{"x":0.03,"y":0.95},{"x":0.04,"y":1.15},{"x":0.05,"y":0.8},{"x":0.06,"y":0.9},{"x":0.07,"y":1.02},{"x":0.08,"y":0.92},{"x":0.09,"y":0.82},{"x":0.1,"y":1.12},{"x":0.02,"y":0.68},{"x":0.04,"y":0.92},{"x":0.06,"y":1.12},{"x":0.08,"y":1.25},{"x":0.03,"y":1.22},{"x":0.05,"y":1.38},{"x":0.07,"y":0.78},{"x":0.09,"y":1.5},{"x":0.01,"y":1.15},{"x":0.04,"y":0.55},{"x":0.06,"y":0.62},{"x":0.1,"y":0.7},
{"x":0.11,"y":1.0},{"x":0.11,"y":1.3},{"x":0.11,"y":0.75},{"x":0.11,"y":1.15},{"x":0.12,"y":0.9},{"x":0.12,"y":1.42},{"x":0.12,"y":0.65},{"x":0.12,"y":1.08},{"x":0.13,"y":1.2},{"x":0.13,"y":0.85},{"x":0.13,"y":1.55},{"x":0.13,"y":1.0},{"x":0.14,"y":0.58},{"x":0.14,"y":1.25},{"x":0.14,"y":0.95},{"x":0.14,"y":1.12},{"x":0.15,"y":1.35},{"x":0.15,"y":0.8},{"x":0.15,"y":1.72},{"x":0.15,"y":1.05},{"x":0.16,"y":1.18},{"x":0.16,"y":0.9},{"x":0.16,"y":1.48},{"x":0.16,"y":0.7},{"x":0.17,"y":1.02},{"x":0.17,"y":1.3},{"x":0.17,"y":0.82},{"x":0.17,"y":1.6},{"x":0.18,"y":1.12},{"x":0.18,"y":0.95},{"x":0.18,"y":1.4},{"x":0.18,"y":0.64},{"x":0.19,"y":1.25},{"x":0.19,"y":1.05},{"x":0.19,"y":1.7},{"x":0.19,"y":0.85},{"x":0.2,"y":1.15},{"x":0.2,"y":0.98},{"x":0.2,"y":1.52},{"x":0.2,"y":1.3},{"x":0.19,"y":2.23},{"x":0.11,"y":1.22},{"x":0.13,"y":1.1},{"x":0.15,"y":1.2},{"x":0.17,"y":1.15},{"x":0.19,"y":1.0},{"x":0.12,"y":1.2},{"x":0.14,"y":1.38},{"x":0.16,"y":1.05},{"x":0.18,"y":1.25},{"x":0.2,"y":0.8},{"x":0.13,"y":0.72},{"x":0.16,"y":1.3},{"x":0.18,"y":1.55},{"x":0.15,"y":0.95},
{"x":0.21,"y":1.2},{"x":0.21,"y":0.95},{"x":0.21,"y":1.45},{"x":0.22,"y":2.01},{"x":0.22,"y":1.1},{"x":0.22,"y":1.32},{"x":0.22,"y":0.8},{"x":0.23,"y":1.25},{"x":0.23,"y":1.6},{"x":0.23,"y":1.0},{"x":0.23,"y":1.38},{"x":0.24,"y":1.15},{"x":0.24,"y":0.92},{"x":0.24,"y":1.75},{"x":0.24,"y":1.3},{"x":0.25,"y":1.05},{"x":0.25,"y":1.5},{"x":0.25,"y":1.22},{"x":0.25,"y":0.85},{"x":0.26,"y":1.4},{"x":0.26,"y":1.12},{"x":0.26,"y":1.82},{"x":0.26,"y":0.96},{"x":0.27,"y":1.28},{"x":0.27,"y":1.55},{"x":0.27,"y":0.8},{"x":0.27,"y":1.18},{"x":0.28,"y":1.35},{"x":0.28,"y":1.02},{"x":0.28,"y":1.65},{"x":0.29,"y":1.25},{"x":0.29,"y":1.45},{"x":0.29,"y":1.1},{"x":0.3,"y":1.3},{"x":0.3,"y":0.97},{"x":0.3,"y":1.52},{"x":0.23,"y":1.88},{"x":0.21,"y":1.72},{"x":0.28,"y":1.2},{"x":0.25,"y":1.35},{"x":0.22,"y":1.2},{"x":0.29,"y":0.8},
{"x":0.31,"y":1.2},{"x":0.31,"y":1.5},{"x":0.32,"y":1.05},{"x":0.32,"y":1.9},{"x":0.33,"y":1.35},{"x":0.33,"y":1.15},{"x":0.34,"y":1.6},{"x":0.34,"y":1.25},{"x":0.35,"y":1.1},{"x":0.35,"y":1.45},{"x":0.35,"y":1.72},{"x":0.36,"y":1.3},{"x":0.36,"y":1.08},{"x":0.36,"y":1.9},{"x":0.37,"y":1.99},{"x":0.37,"y":1.4},{"x":0.37,"y":1.2},{"x":0.38,"y":1.55},{"x":0.38,"y":1.3},{"x":0.38,"y":1.75},{"x":0.39,"y":1.1},{"x":0.39,"y":1.45},{"x":0.39,"y":1.98},{"x":0.4,"y":1.25},{"x":0.4,"y":1.72},{"x":0.4,"y":1.35},
{"x":0.41,"y":1.55},{"x":0.42,"y":1.92},{"x":0.42,"y":1.2},{"x":0.43,"y":1.38},{"x":0.44,"y":1.6},{"x":0.45,"y":1.22},{"x":0.46,"y":1.65},{"x":0.47,"y":1.2},{"x":0.48,"y":1.45},{"x":0.5,"y":1.75},{"x":0.5,"y":1.49},{"x":0.5,"y":1.46},{"x":0.54,"y":1.47},
{"x":-0.295,"y":0.62},{"x":-0.285,"y":0.85},{"x":-0.275,"y":0.5},{"x":-0.265,"y":0.7},{"x":-0.255,"y":0.95},{"x":-0.245,"y":0.42},{"x":-0.235,"y":0.75},{"x":-0.225,"y":0.58},{"x":-0.215,"y":0.88},{"x":-0.205,"y":0.66},
{"x":-0.195,"y":0.45},{"x":-0.185,"y":0.72},{"x":-0.175,"y":1.02},{"x":-0.165,"y":0.55},{"x":-0.155,"y":0.8},{"x":-0.145,"y":0.62},{"x":-0.135,"y":0.9},{"x":-0.125,"y":0.48},{"x":-0.115,"y":0.74},{"x":-0.105,"y":1.1},
{"x":-0.095,"y":0.6},{"x":-0.085,"y":0.82},{"x":-0.075,"y":0.68},{"x":-0.065,"y":1.0},{"x":-0.055,"y":0.55},{"x":-0.045,"y":0.8},{"x":-0.035,"y":1.15},{"x":-0.025,"y":0.62},{"x":-0.015,"y":0.85},{"x":-0.005,"y":1.05},
{"x":0.005,"y":0.7},{"x":0.015,"y":0.95},{"x":0.025,"y":1.25},{"x":0.035,"y":0.78},{"x":0.045,"y":1.05},{"x":0.055,"y":0.6},{"x":0.065,"y":0.88},{"x":0.075,"y":1.15},{"x":0.085,"y":0.72},{"x":0.095,"y":1.0},
{"x":0.105,"y":1.28},{"x":0.115,"y":0.85},{"x":0.125,"y":1.05},{"x":0.135,"y":0.75},{"x":0.145,"y":1.2},{"x":0.155,"y":0.95},{"x":0.165,"y":1.4},{"x":0.175,"y":0.88},{"x":0.185,"y":1.1},{"x":0.195,"y":1.32},
{"x":0.205,"y":0.9},{"x":0.215,"y":1.15},{"x":0.225,"y":1.45},{"x":0.235,"y":1.05},{"x":0.245,"y":1.25},{"x":0.255,"y":0.95},{"x":0.265,"y":1.35},{"x":0.275,"y":1.1},{"x":0.285,"y":1.5},{"x":0.295,"y":1.2},
{"x":-0.29,"y":0.75},{"x":-0.27,"y":0.6},{"x":-0.25,"y":0.78},{"x":-0.23,"y":0.55},{"x":-0.21,"y":0.82},{"x":-0.19,"y":0.64},{"x":-0.17,"y":0.75},{"x":-0.15,"y":0.65},{"x":-0.13,"y":0.85},{"x":-0.11,"y":0.72},
{"x":-0.09,"y":0.9},{"x":-0.07,"y":0.78},{"x":-0.05,"y":0.88},{"x":-0.03,"y":0.78},{"x":-0.01,"y":1.0},{"x":0.01,"y":0.85},{"x":0.03,"y":1.0},{"x":0.05,"y":0.95},{"x":0.07,"y":0.85},{"x":0.09,"y":1.05},
{"x":0.11,"y":0.92},{"x":0.13,"y":1.15},{"x":0.15,"y":1.08},{"x":0.17,"y":1.22},{"x":0.19,"y":1.12},{"x":0.21,"y":1.28},{"x":0.23,"y":1.12},{"x":0.25,"y":1.15},{"x":0.27,"y":1.38},{"x":0.29,"y":1.32},
{"x":-0.35,"y":0.75},{"x":-0.38,"y":0.55},{"x":-0.33,"y":0.5},{"x":-0.36,"y":0.88},{"x":-0.4,"y":0.62},{"x":0.32,"y":1.4},{"x":0.34,"y":1.15},{"x":0.36,"y":1.55},{"x":0.33,"y":1.65},{"x":0.35,"y":1.28},
{"x":-0.16,"y":0.4},{"x":-0.08,"y":0.45},{"x":0.0,"y":0.55},{"x":0.08,"y":0.7},{"x":0.16,"y":0.78},{"x":-0.12,"y":1.28},{"x":-0.04,"y":1.35},{"x":0.04,"y":1.42},{"x":0.12,"y":1.55},{"x":0.2,"y":1.62},
{"x":-0.245,"y":0.88},{"x":-0.205,"y":0.4},{"x":-0.155,"y":0.98},{"x":-0.095,"y":1.18},{"x":-0.045,"y":0.65},{"x":0.025,"y":0.82},{"x":0.085,"y":1.3},{"x":0.145,"y":0.68},{"x":0.205,"y":1.42},{"x":0.265,"y":0.88}
]
},
"hconcat": [
{
 "width": 237, "height": 267,
 "title": "(a)\u00a0\u00a0Daily",
 "data": {"name": "a"},
 "layer": [
  {"mark": {"type": "circle", "size": 7, "color": "#1f1f1f", "opacity": 1},
   "encoding": {
    "x": {"field": "x", "type": "quantitative", "scale": {"domain": [-3.06, 3.35], "nice": false, "zero": false}, "axis": {"values": [-2, 0, 2], "title": "x", "format": "~g"}},
    "y": {"field": "y", "type": "quantitative", "scale": {"domain": [-5, 15], "nice": false, "zero": false}, "axis": {"values": [-5, 0, 5, 10, 15], "title": "y", "titleX": -33, "format": "~g"}}
   }},
  {"mark": {"type": "circle", "opacity": 0},
   "encoding": {
    "x": {"field": "x", "type": "quantitative", "axis": {"orient": "top", "values": [-2, 0, 2], "labels": false, "title": null}},
    "y": {"field": "y", "type": "quantitative", "axis": {"orient": "right", "values": [-5, 0, 5, 10, 15], "labels": false, "title": null}}
   }}
 ],
 "resolve": {"axis": {"x": "independent", "y": "independent"}}
},
{
 "width": 237, "height": 267,
 "title": "(b)\u00a0\u00a07-day averaged",
 "data": {"name": "b"},
 "layer": [
  {"mark": {"type": "circle", "size": 7, "color": "#1f1f1f", "opacity": 1},
   "encoding": {
    "x": {"field": "x", "type": "quantitative", "scale": {"domain": [-1.18, 1.22], "nice": false, "zero": false}, "axis": {"values": [-1, 0, 1], "title": "x", "format": "~g"}},
    "y": {"field": "y", "type": "quantitative", "scale": {"domain": [-1, 5], "nice": false, "zero": false}, "axis": {"values": [-1, 0, 1, 2, 3, 4, 5], "title": "y", "titleX": -30, "format": "~g"}}
   }},
  {"mark": {"type": "circle", "opacity": 0},
   "encoding": {
    "x": {"field": "x", "type": "quantitative", "axis": {"orient": "top", "values": [-1, 0, 1], "labels": false, "title": null}},
    "y": {"field": "y", "type": "quantitative", "axis": {"orient": "right", "values": [-1, 0, 1, 2, 3, 4, 5], "labels": false, "title": null}}
   }}
 ],
 "resolve": {"axis": {"x": "independent", "y": "independent"}}
},
{
 "width": 236, "height": 267,
 "title": "(c)\u00a0\u00a030-day averaged",
 "data": {"name": "c"},
 "layer": [
  {"mark": {"type": "circle", "size": 7, "color": "#1f1f1f", "opacity": 1},
   "encoding": {
    "x": {"field": "x", "type": "quantitative", "scale": {"domain": [-0.554, 0.585], "nice": false, "zero": false}, "axis": {"values": [-0.5, 0, 0.5], "title": "x", "format": "~g"}},
    "y": {"field": "y", "type": "quantitative", "scale": {"domain": [0, 2.5], "nice": false, "zero": false}, "axis": {"values": [0, 0.5, 1, 1.5, 2, 2.5], "title": "y", "titleX": -38, "format": "~g"}}
   }},
  {"mark": {"type": "circle", "opacity": 0},
   "encoding": {
    "x": {"field": "x", "type": "quantitative", "axis": {"orient": "top", "values": [-0.5, 0, 0.5], "labels": false, "title": null}},
    "y": {"field": "y", "type": "quantitative", "axis": {"orient": "right", "values": [0, 0.5, 1, 1.5, 2, 2.5], "labels": false, "title": null}}
   }}
 ],
 "resolve": {"axis": {"x": "independent", "y": "independent"}}
}
]
}
